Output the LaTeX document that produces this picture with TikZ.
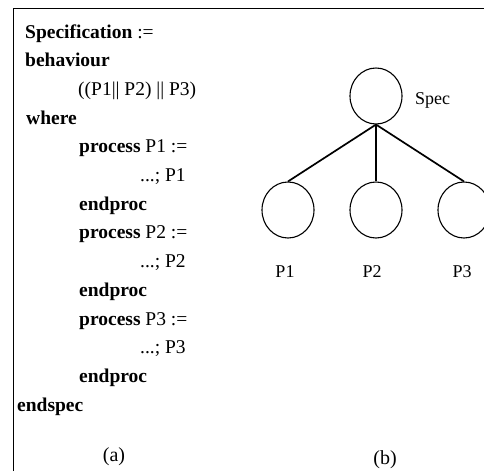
\documentclass[tikz,border=0pt]{standalone}
\usepackage{fontspec}
\setmainfont{Liberation Serif}
\usetikzlibrary{shapes.geometric}
\begin{document}
\begin{tikzpicture}[x=1pt,y=-1pt,
  codeline/.style={anchor=base west,inner sep=0pt,font=\fontsize{19.5}{21}\selectfont},
  proc/.style={draw,ellipse,minimum width=52pt,minimum height=56pt,inner sep=0pt,line width=1.1pt},
  tree/.style={line width=1.7pt},
  lbl/.style={inner sep=0pt,font=\fontsize{18}{20}\selectfont},
  subcap/.style={inner sep=0pt,font=\fontsize{20}{22}\selectfont}]
\useasboundingbox (0,0) rectangle (484,471);
% open frame: left and top rules
\coordinate (fl) at (13.5,471);
\coordinate (ftl) at (13.5,8.5);
\coordinate (ftr) at (484,8.5);
\draw[line width=1.4pt] (fl) -- (ftl) -- (ftr);

% (a) specification text
\node[codeline] (l1)  at (25,38)    {\textbf{Specification} :=};
\node[codeline] (l2)  at (25,66.7)  {\textbf{behaviour}};
\node[codeline] (l3)  at (78,95.4)  {((P1|| P2) || P3)};
\node[codeline] (l4)  at (26,124.1) {\textbf{where}};
\node[codeline] (l5)  at (79,152.8) {\textbf{process} P1 :=};
\node[codeline] (l6)  at (140,181.5){...; P1};
\node[codeline] (l7)  at (79,210.2) {\textbf{endproc}};
\node[codeline] (l8)  at (79,238.9) {\textbf{process} P2 :=};
\node[codeline] (l9)  at (140,267.6){...; P2};
\node[codeline] (l10) at (79,296.3) {\textbf{endproc}};
\node[codeline] (l11) at (79,325)   {\textbf{process} P3 :=};
\node[codeline] (l12) at (140,353.7){...; P3};
\node[codeline] (l13) at (79,382.4) {\textbf{endproc}};
\node[codeline] (l14) at (17,411.1) {\textbf{endspec}};
\node[subcap] (capa) at (114,457) {(a)};

% (b) process tree
\node[proc] (spec) at (376,96) {};
\node[proc] (p1) at (288,210) {};
\node[proc] (p2) at (376,210) {};
\node[proc] (p3) at (464,210) {};
\draw[tree] (spec.south) -- (p1.north);
\draw[line width=1.1pt] (spec.south) -- (p2.north);
\draw[tree] (spec.south) -- (p3.north);
\node[lbl,anchor=west] (specl) at (415,100) {Spec};
\node[lbl] (p1l) at (285,272) {P1};
\node[lbl] (p2l) at (372,272) {P2};
\node[lbl] (p3l) at (462,272) {P3};
\node[subcap] (capb) at (385,460) {(b)};
\end{tikzpicture}
\end{document}
